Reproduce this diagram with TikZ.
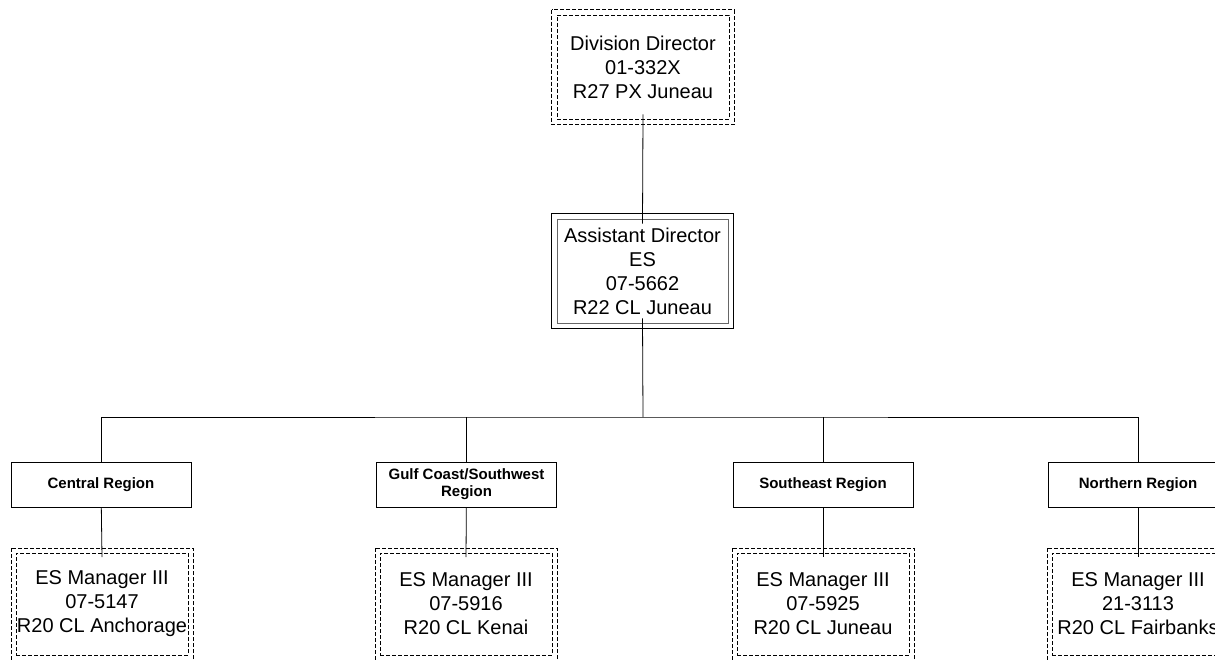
\documentclass[tikz,border=0pt]{standalone}
\usepackage{fontspec}
\setmainfont{Liberation Sans}
\usetikzlibrary{positioning}

\tikzset{
  post/.style = {align=center, inner sep=0pt, font=\fontsize{20}{24}\selectfont},
  vacant/.style = {post, draw, dash pattern=on 4pt off 2pt, line width=0.6pt},
  filled/.style = {post, draw=black!60, line width=0.7pt},
  rim/.style = {line width=0.6pt},
  region/.style = {draw, line width=0.7pt, align=center, inner sep=0pt,
                   minimum width=180pt, minimum height=45pt,
                   font=\fontsize{15}{17}\selectfont\bfseries},
  link/.style = {line width=0.8pt}
}

\begin{document}
\begin{tikzpicture}[x=1pt, y=-1pt]
		\useasboundingbox (0,0) rectangle (1215,659);
		%
		\node[vacant, minimum width=172pt, minimum height=104pt] (dir) at (643,67)
			{Division Director\\01-332X\\R27 PX Juneau};
		\draw[rim, dash pattern=on 4pt off 2pt] ([shift={(-5pt,5pt)}]dir.north west) rectangle ([shift={(5pt,-5pt)}]dir.south east);
		\node[filled, minimum width=171pt, minimum height=104pt] (asst) at (642.5,271)
			{Assistant Director\\ES\\07-5662\\R22 CL Juneau};
		\draw[rim] ([shift={(-5pt,5pt)}]asst.north west) rectangle ([shift={(5pt,-5pt)}]asst.south east);
		\coordinate (bus) at (643,417);
		%
		\node[region] (central) at (101,484.5) {Central Region};
		\node[region] (gulf) at (466.5,484.5) {Gulf Coast/Southwest\\Region};
		\node[region] (southeast) at (823,484.5) {Southeast Region};
		\node[region] (northern) at (1138,484.5) {Northern Region};
		%
		\foreach \n/\x/\num/\town in {mgrC/102/07-5147/Anchorage, mgrG/466/07-5916/Kenai,
		                              mgrS/823/07-5925/Juneau, mgrN/1138/21-3113/Fairbanks}{
			\node[vacant, minimum width=172pt, minimum height=102pt] (\n) at (\x,604)
				{ES Manager III\\\num\\R20 CL \town};
			\draw[rim, dash pattern=on 4pt off 2pt] ([shift={(-4.5pt,4.5pt)}]\n.north west) rectangle ([shift={(4.5pt,-4.5pt)}]\n.south east);
		}
		%
		\draw[link] ([yshift=5pt]dir.south) -- ([yshift=-5pt]asst.north);
		\draw[link] ([yshift=5pt]asst.south) -- (bus);
		\draw[link] (central.north) |- (bus) -| (northern.north);
		\draw[link] (gulf.north) -- (gulf.north |- bus);
		\draw[link] (southeast.north) -- (southeast.north |- bus);
		%
		\draw[link] (central) -- ([yshift=-4.5pt]mgrC.north);
		\draw[link] (gulf) -- ([yshift=-4.5pt]mgrG.north);
		\draw[link] (southeast) -- ([yshift=-4.5pt]mgrS.north);
		\draw[link] (northern) -- ([yshift=-4.5pt]mgrN.north);
		%
	\end{tikzpicture}
\end{document}
